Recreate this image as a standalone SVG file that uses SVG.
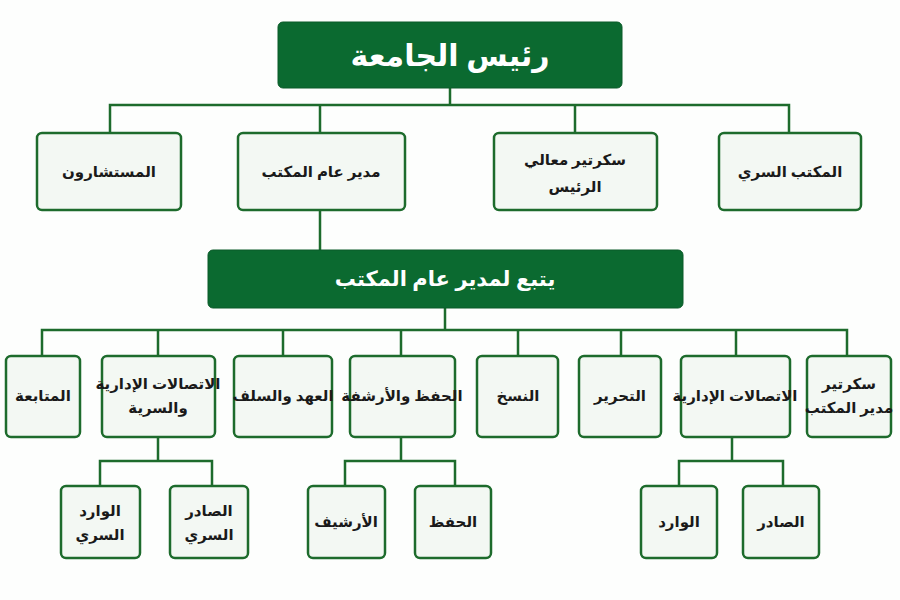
<svg xmlns="http://www.w3.org/2000/svg" width="900" height="600" viewBox="0 0 900 600">
<style>
.b{fill:#f3f8f3;stroke:#1d6b2c;stroke-width:2.5}
.h{fill:#0b6a30;stroke:#0a5a28;stroke-width:1}
.t{font-family:"Noto Sans","DejaVu Sans",sans-serif;font-weight:bold;font-size:15px;fill:#1a1a1a;text-anchor:middle;direction:rtl}
.w{font-family:"Noto Sans","DejaVu Sans",sans-serif;font-weight:bold;fill:#fff;text-anchor:middle;direction:rtl}
.c{fill:none;stroke:#1d6b2c;stroke-width:2.5}
</style>
<rect width="900" height="600" fill="#fdfefd"/>
<g id="connectors">
<path class="c" d="M450 88V105M110 133V105H789V133M320 105V133M575 105V133"/>
<path class="c" d="M320 210V250M445 308V330M42 356V330H847V356M158 330V356M283 330V356M401 330V356M518 330V356M621 330V356M736 330V356"/>
<path class="c" d="M158 437V461M100 486V461H212V486M401 437V461M345 486V461H455V486M732 437V461M679 486V461H783V486"/>
</g>
<g id="n-president"><rect class="h" x="278" y="22" width="344" height="66" rx="5"/><text class="w" x="450" y="66" font-size="30">رئيس الجامعة</text></g>
<g id="n-advisors"><rect class="b" x="37" y="133" width="144" height="77" rx="5"/><text class="t" x="109" y="177" font-size="16">المستشارون</text></g>
<g id="n-dg"><rect class="b" x="238" y="133" width="167" height="77" rx="5"/><text class="t" x="321" y="177" font-size="16">مدير عام المكتب</text></g>
<g id="n-sec"><rect class="b" x="494" y="133" width="163" height="77" rx="5"/><text class="t" x="575" y="165" font-size="16">سكرتير معالي</text><text class="t" x="575" y="192" font-size="16">الرئيس</text></g>
<g id="n-secret"><rect class="b" x="719" y="133" width="142" height="77" rx="5"/><text class="t" x="790" y="177" font-size="16">المكتب السري</text></g>
<g id="n-banner"><rect class="h" x="208" y="250" width="475" height="58" rx="5"/><text class="w" x="445" y="286" font-size="21">يتبع لمدير عام المكتب</text></g>
<g id="n-follow"><rect class="b" x="6" y="356" width="74" height="81" rx="5"/><text class="t" x="43" y="401">المتابعة</text></g>
<g id="n-seccomm"><rect class="b" x="102" y="356" width="113" height="81" rx="5"/><text class="t" x="158" y="389">الاتصالات الإدارية</text><text class="t" x="158" y="413">والسرية</text></g>
<g id="n-custody"><rect class="b" x="234" y="356" width="98" height="81" rx="5"/><text class="t" x="283" y="401">العهد والسلف</text></g>
<g id="n-archive"><rect class="b" x="350" y="356" width="105" height="81" rx="5"/><text class="t" x="402" y="401">الحفظ والأرشفة</text></g>
<g id="n-copy"><rect class="b" x="477" y="356" width="81" height="81" rx="5"/><text class="t" x="518" y="401">النسخ</text></g>
<g id="n-edit"><rect class="b" x="579" y="356" width="82" height="81" rx="5"/><text class="t" x="620" y="401">التحرير</text></g>
<g id="n-admcomm"><rect class="b" x="681" y="356" width="109" height="81" rx="5"/><text class="t" x="735" y="401">الاتصالات الإدارية</text></g>
<g id="n-dgsec"><rect class="b" x="807" y="356" width="84" height="81" rx="5"/><text class="t" x="849" y="389">سكرتير</text><text class="t" x="849" y="413">مدير المكتب</text></g>
<g id="n-secin"><rect class="b" x="61" y="486" width="79" height="72" rx="5"/><text class="t" x="100" y="516">الوارد</text><text class="t" x="100" y="540">السري</text></g>
<g id="n-secout"><rect class="b" x="170" y="486" width="78" height="72" rx="5"/><text class="t" x="209" y="516">الصادر</text><text class="t" x="209" y="540">السري</text></g>
<g id="n-arch"><rect class="b" x="308" y="486" width="77" height="72" rx="5"/><text class="t" x="346" y="527">الأرشيف</text></g>
<g id="n-keep"><rect class="b" x="415" y="486" width="76" height="72" rx="5"/><text class="t" x="453" y="527">الحفظ</text></g>
<g id="n-in"><rect class="b" x="641" y="486" width="76" height="72" rx="5"/><text class="t" x="679" y="527">الوارد</text></g>
<g id="n-out"><rect class="b" x="743" y="486" width="76" height="72" rx="5"/><text class="t" x="781" y="527">الصادر</text></g>
</svg>
